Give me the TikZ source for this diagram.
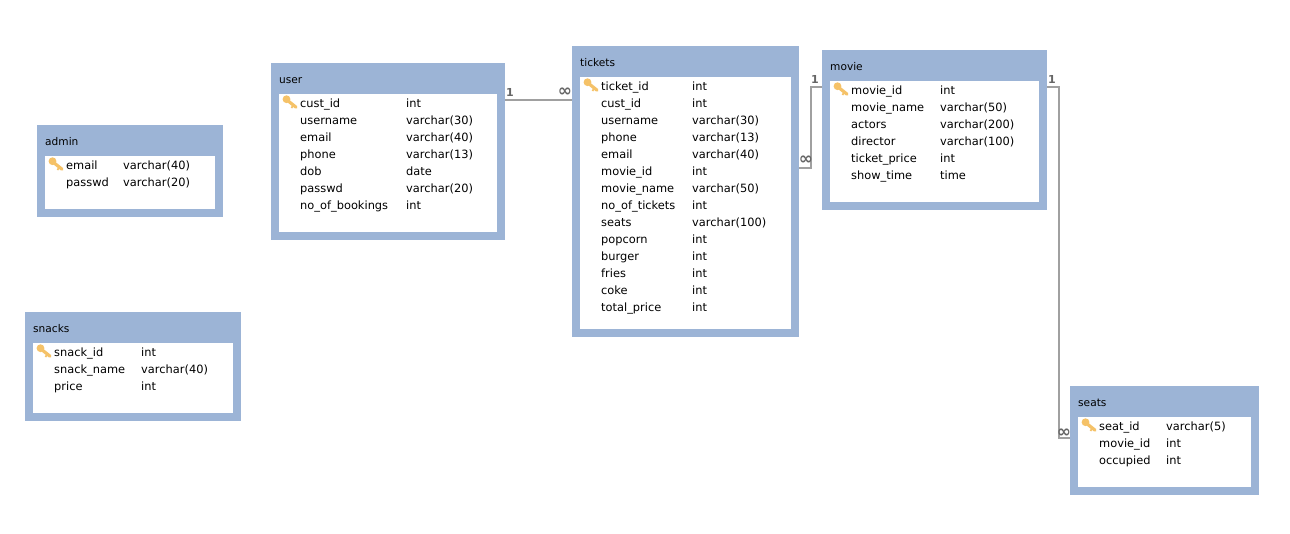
\documentclass[tikz,border=0pt]{standalone}
\usepackage{fontspec}
\setmainfont{DejaVu Sans}
\newfontfamily\symfont{DejaVu Sans}
\definecolor{hdr}{HTML}{9CB4D6}
\definecolor{lnk}{HTML}{A0A0A0}
\definecolor{mark}{HTML}{666666}
\definecolor{keyc}{HTML}{F5C268}
\tikzset{
  x=1pt,y=-1pt,
  outer/.style={fill=hdr,draw=none,inner sep=0,outer sep=0},
  inner/.style={fill=white,draw=none,inner sep=0,outer sep=0},
  txt/.style={inner sep=0,anchor=base west,font=\fontsize{11.4}{13}\selectfont,text=black},
  ttl/.style={inner sep=0,anchor=base west,font=\fontsize{10.6}{13}\selectfont,text=black},
  link/.style={draw=lnk,line width=2pt},
  cardone/.style={inner sep=0,font=\fontsize{11}{12}\selectfont\bfseries,text=mark},
  cardmany/.style={inner sep=0,font=\fontsize{17}{17}\selectfont\symfont\bfseries,text=mark},
}
\newcommand{\keyicon}[2]{%
  \begin{scope}[shift={(#1,#2)}]
    \fill[keyc] (3.5,-3.8) circle (3.9);
    \draw[keyc,line width=3.2pt,line cap=round] (4,-3) -- (13,4.2);
    \draw[keyc,line width=1.8pt] (10,2.5) -- (8.5,5);
  \end{scope}}
% name, x0,y0,x1,y1, column x1, column x2, rows
\newcommand{\erdtable}[8]{%
  \node[outer,minimum width={(#4-#2)*1pt},minimum height={(#5-#3)*1pt}] (#1) at ({(#2+#4)/2},{(#3+#5)/2}) {};
  \node[inner,minimum width={(#4-#2-16)*1pt},minimum height={(#5-#3-39)*1pt}] (#1-body) at ({(#2+#4)/2},{(#3+#5+23)/2}) {};
  \node[ttl] (#1-title) at ({#2+8},{#3+20}) {#1};
  \keyicon{#6-17}{#3+40}
  \foreach \n/\t [count=\i] in {#8} {
    \node[txt] (#1-n\i) at (#6,{#3+44+(\i-1)*17}) {\n};
    \node[txt] (#1-t\i) at (#7,{#3+44+(\i-1)*17}) {\t};
  }}
\begin{document}
\begin{tikzpicture}
\useasboundingbox (0,0) rectangle (1290,533);
\erdtable{admin}{37}{125}{223}{217}{66}{123}{email/varchar(40),passwd/varchar(20)}
\erdtable{snacks}{25}{312}{241}{421}{54}{141}{snack\_id/int,snack\_name/varchar(40),price/int}
\erdtable{user}{271}{63}{505}{240}{300}{406}{cust\_id/int,username/varchar(30),email/varchar(40),phone/varchar(13),dob/date,passwd/varchar(20),no\_of\_bookings/int}
\erdtable{tickets}{572}{46}{799}{337}{601}{692}{ticket\_id/int,cust\_id/int,username/varchar(30),phone/varchar(13),email/varchar(40),movie\_id/int,movie\_name/varchar(50),no\_of\_tickets/int,seats/varchar(100),popcorn/int,burger/int,fries/int,coke/int,total\_price/int}
\erdtable{movie}{822}{50}{1047}{210}{851}{940}{movie\_id/int,movie\_name/varchar(50),actors/varchar(200),director/varchar(100),ticket\_price/int,show\_time/time}
\erdtable{seats}{1070}{386}{1259}{495}{1099}{1166}{seat\_id/varchar(5),movie\_id/int,occupied/int}
% connectors
\draw[link] ([yshift=51.5pt]user.east) -- ([yshift=91.5pt]tickets.west);
\draw[link] ([yshift=23.5pt]tickets.east) -- ++(12,0) |- ([yshift=43pt]movie.west);
\draw[link] ([yshift=43pt]movie.east) -- ++(12,0) |- ([yshift=2.5pt]seats.west);
\node[cardone] (c1) at (510,92) {1};
\node[cardmany] (c2) at (565,92) {∞};
\node[cardone] (c3) at (815,79) {1};
\node[cardmany] (c4) at (806,160) {∞};
\node[cardone] (c5) at (1052,79) {1};
\node[cardmany] (c6) at (1064,433) {∞};
\end{tikzpicture}
\end{document}
